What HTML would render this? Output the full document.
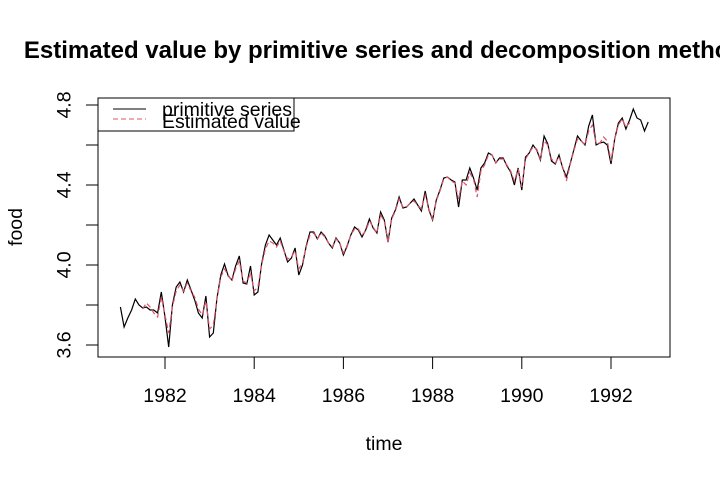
<!DOCTYPE html>
<html><head><meta charset="utf-8"><style>
body{margin:0;background:#fff;overflow:hidden}
svg{display:block;font-family:"Liberation Sans",Arial,sans-serif}
</style></head><body>
<svg id="c" width="720" height="480" xmlns="http://www.w3.org/2000/svg">
<text x="384" y="58" text-anchor="middle" font-size="24" font-weight="bold">Estimated value by primitive series and decomposition method</text>
<rect x="98" y="98" width="572" height="259" fill="none" stroke="#000" stroke-width="1"/>
<g id="xax"></g>
<g id="yax"></g>
<text x="384" y="450" text-anchor="middle" font-size="19.5">time</text>
<text transform="translate(22,227) rotate(-90)" text-anchor="middle" font-size="19.5">food</text>
<g id="series"></g>
<g>
<rect x="98" y="98" width="196" height="33" fill="#fff" stroke="#000" stroke-width="1"/>
<line x1="113" y1="109" x2="146" y2="109" stroke="#000" stroke-width="1"/>
<text x="162" y="116" font-size="19.5">primitive series</text>
<line x1="113" y1="119" x2="146" y2="119" stroke="#DF536B" stroke-width="1" stroke-dasharray="5,3"/>
<text x="162" y="128" font-size="19.5">Estimated value</text>
</g>
</svg>
<script>
const startYear = 1981;
const primitive = [3.79,3.69,3.735,3.775,3.83,3.80,3.785,3.79,3.775,3.775,3.76,3.865,
3.74,3.59,3.80,3.89,3.915,3.865,3.925,3.875,3.825,3.76,3.735,3.845,
3.64,3.66,3.835,3.95,4.005,3.945,3.925,3.995,4.045,3.91,3.905,3.995,
3.85,3.865,4.005,4.10,4.15,4.125,4.10,4.135,4.075,4.015,4.035,4.085,
3.95,4.00,4.095,4.165,4.165,4.13,4.165,4.145,4.11,4.085,4.135,4.11,
4.05,4.095,4.15,4.19,4.175,4.14,4.175,4.23,4.185,4.16,4.265,4.225,
4.115,4.235,4.275,4.34,4.285,4.29,4.31,4.33,4.30,4.27,4.37,4.275,
4.225,4.325,4.375,4.435,4.44,4.425,4.415,4.29,4.425,4.425,4.485,4.435,
4.375,4.485,4.51,4.56,4.55,4.51,4.535,4.535,4.495,4.465,4.40,4.485,
4.375,4.54,4.56,4.60,4.575,4.525,4.645,4.605,4.52,4.505,4.55,4.485,
4.44,4.505,4.575,4.645,4.62,4.60,4.695,4.75,4.60,4.61,4.615,4.60,
4.505,4.63,4.71,4.735,4.68,4.725,4.78,4.735,4.725,4.67,4.715];
const estStart = 6;
const estimated = [3.78,3.81,3.79,3.76,3.74,3.84,
3.75,3.66,3.79,3.87,3.90,3.87,3.91,3.87,3.84,3.78,3.75,3.82,
3.68,3.70,3.83,3.94,3.98,3.95,3.92,3.98,4.02,3.92,3.91,3.96,
3.87,3.89,4.00,4.08,4.12,4.11,4.09,4.12,4.07,4.03,4.04,4.07,
3.98,4.01,4.09,4.15,4.16,4.13,4.16,4.14,4.11,4.09,4.13,4.11,
4.06,4.09,4.15,4.18,4.18,4.15,4.17,4.22,4.19,4.16,4.25,4.22,
4.11,4.23,4.27,4.33,4.29,4.29,4.31,4.32,4.30,4.28,4.35,4.28,
4.23,4.32,4.37,4.43,4.44,4.42,4.41,4.33,4.42,4.40,4.46,4.43,
4.34,4.47,4.50,4.55,4.55,4.51,4.53,4.53,4.50,4.47,4.42,4.48,
4.39,4.53,4.56,4.59,4.58,4.53,4.62,4.60,4.53,4.51,4.54,4.49,
4.42,4.50,4.57,4.63,4.62,4.60,4.67,4.70,4.61,4.61,4.64,4.62,
4.52,4.63,4.70,4.73,4.69,4.71];
const xTicks = [1982,1984,1986,1988,1990,1992];
const yTicks = [3.6,3.8,4.0,4.2,4.4,4.6,4.8];
const yLabels = ["3.6","","4.0","","4.4","","4.8"];

const NS="http://www.w3.org/2000/svg";
function xs(t){return 165+(t-1982)*44.6;}
function ys(v){return 105+(4.8-v)*200;}
function mk(tag,attrs,parent){const e=document.createElementNS(NS,tag);for(const k in attrs)e.setAttribute(k,attrs[k]);parent.appendChild(e);return e;}
const xax=document.getElementById('xax'),yax=document.getElementById('yax'),ser=document.getElementById('series');
xTicks.forEach((t,i)=>{
  const l=mk('line',{x1:xs(t),x2:xs(t),y1:357,y2:369,stroke:'#000'},xax);
  
  
  const tx=mk('text',{x:xs(t),y:402,'text-anchor':'middle','font-size':19.5},xax);
  tx.textContent=t;
  
  
});
yTicks.forEach((v,i)=>{
  const l=mk('line',{x1:86,x2:98,y1:ys(v),y2:ys(v),stroke:'#000'},yax);
  
  
  if(yLabels[i]){
    const tx=mk('text',{transform:`translate(70.5,${ys(v)}) rotate(-90)`,'text-anchor':'middle','font-size':19.5},yax);
    tx.textContent=yLabels[i];
    
    
  }
});
const p1=primitive.map((v,i)=>xs(startYear+i/12).toFixed(1)+','+ys(v).toFixed(1)).join(' ');
const pl=mk('polyline',{points:p1,fill:'none',stroke:'#000','stroke-width':1.2},ser);


const p2=estimated.map((v,i)=>xs(startYear+(i+estStart)/12).toFixed(1)+','+ys(v).toFixed(1)).join(' ');
const el=mk('polyline',{points:p2,fill:'none',stroke:'#DF536B','stroke-width':1.2,'stroke-dasharray':'5,3'},ser);


</script>
</body></html>
